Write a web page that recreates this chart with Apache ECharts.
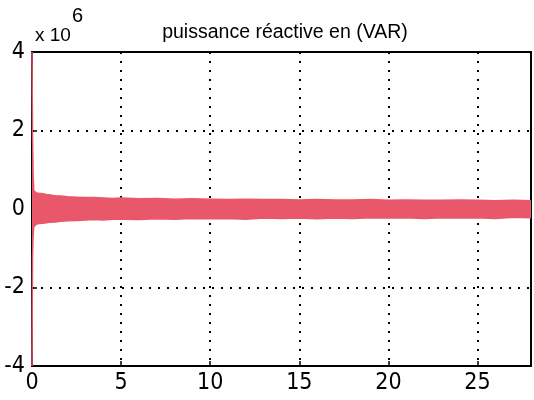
<!DOCTYPE html>
<html>
<head>
<meta charset="utf-8">
<script src="https://cdn.jsdelivr.net/npm/echarts@6/dist/echarts.min.js"></script>
<style>
html,body{margin:0;padding:0;background:#fff;}
#chart{width:534px;height:400px;}
</style>
</head>
<body>
<div id="chart"></div>
<script>
// Time samples (s) and envelope of the reactive power oscillation (x 10^6 VAR)
var times = [0, 0.03, 0.06, 0.1, 0.15, 0.25, 0.4, 0.6, 0.8, 1.0, 1.3, 1.6, 2.0, 2.5, 3.0, 3.5, 4.0, 4.5, 5.0, 6, 7, 8, 9, 10, 11, 12, 13, 14, 15, 16, 17, 18, 19, 20, 21, 22, 23, 24, 25, 26, 27, 28];
var upperEnv = [4, 1.9, 0.9, 0.46, 0.42, 0.41, 0.40, 0.39, 0.37, 0.36, 0.34, 0.33, 0.31, 0.30, 0.29, 0.29, 0.28, 0.27, 0.28, 0.26, 0.27, 0.25, 0.26, 0.25, 0.24, 0.25, 0.24, 0.24, 0.23, 0.24, 0.23, 0.23, 0.24, 0.22, 0.23, 0.22, 0.22, 0.23, 0.22, 0.21, 0.22, 0.21];
var lowerEnv = [-4, -1.2, -0.7, -0.45, -0.40, -0.38, -0.37, -0.36, -0.35, -0.34, -0.33, -0.31, -0.30, -0.29, -0.28, -0.27, -0.28, -0.26, -0.26, -0.27, -0.25, -0.26, -0.24, -0.25, -0.24, -0.26, -0.23, -0.24, -0.23, -0.25, -0.23, -0.24, -0.22, -0.23, -0.22, -0.24, -0.22, -0.23, -0.22, -0.24, -0.21, -0.22];
var xTicks = [0, 5, 10, 15, 20, 25];
var yTicks = [-4, -2, 0, 2, 4];
var titleText = 'puissance réactive en (VAR)';

var RED = '#e8586a';
var tickFont = '"Liberation Sans Narrow","Arial Narrow","DejaVu Sans Condensed","Liberation Sans",sans-serif';
var chart = echarts.init(document.getElementById('chart'), null, {renderer: 'canvas'});

function pairs(a, b) { return a.map(function (t, i) { return [t, b[i]]; }); }

var gridLine = {show: true, lineStyle: {color: '#000', width: 2, type: [2, 7]}};
var axisLine = {show: true, onZero: false, lineStyle: {color: '#000', width: 2}};

chart.setOption({
  animation: false,
  backgroundColor: '#fff',
  grid: {left: 32, right: 3, top: 52, bottom: 34, containLabel: false},
  xAxis: [{
    type: 'value', min: 0, max: 28, interval: 5, position: 'bottom',
    axisLine: axisLine,
    axisTick: {show: true, inside: true, length: 5, lineStyle: {color: '#000', width: 1.5}},
    axisLabel: {show: true, color: '#000', fontSize: 23, fontFamily: tickFont, margin: 6,
      showMaxLabel: false, formatter: function (v) { return xTicks.indexOf(v) >= 0 ? String(v) : ''; }},
    splitLine: gridLine
  }, {
    type: 'value', min: 0, max: 28, interval: 5, position: 'top',
    axisLine: axisLine, axisTick: {show: false}, axisLabel: {show: false}, splitLine: {show: false}
  }],
  yAxis: [{
    type: 'value', min: -4, max: 4, interval: 2, position: 'left',
    axisLine: axisLine,
    axisTick: {show: true, inside: true, length: 5, lineStyle: {color: '#000', width: 1.5}},
    axisLabel: {show: true, color: '#000', fontSize: 23, fontFamily: tickFont, margin: 7,
      formatter: function (v) { return yTicks.indexOf(v) >= 0 ? String(v) : ''; }},
    splitLine: gridLine
  }, {
    type: 'value', min: -4, max: 4, interval: 2, position: 'right',
    axisLine: axisLine, axisTick: {show: false}, axisLabel: {show: false}, splitLine: {show: false}
  }],
  graphic: [
    {type: 'text', left: 35, top: 26, style: {text: 'x 10', font: '19px "Liberation Sans",Arial,sans-serif', fill: '#000'}},
    {type: 'text', left: 72, top: 6, style: {text: '6', font: '20px "Liberation Sans",Arial,sans-serif', fill: '#000'}},
    {type: 'text', x: 285, y: 23, style: {text: titleText, font: '19.5px "Liberation Sans",Arial,sans-serif', fill: '#000', align: 'center', verticalAlign: 'top'}}
  ],
  series: [{
    type: 'line', name: 'upper', data: pairs(times, upperEnv), showSymbol: false, symbol: 'none',
    lineStyle: {color: RED, width: 1.5}, areaStyle: {color: RED, opacity: 1, origin: 0}, z: 3
  }, {
    type: 'line', name: 'lower', data: pairs(times, lowerEnv), showSymbol: false, symbol: 'none',
    lineStyle: {color: RED, width: 1.5}, areaStyle: {color: RED, opacity: 1, origin: 0}, z: 3
  }]
});
</script>
</body>
</html>
